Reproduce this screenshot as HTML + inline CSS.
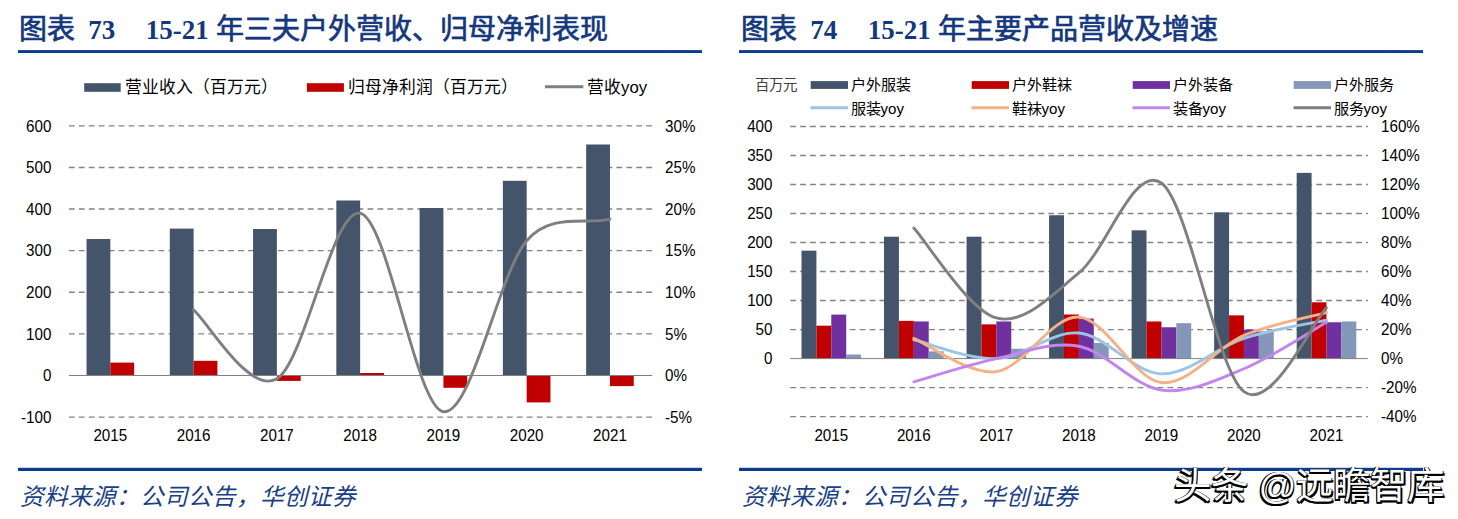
<!DOCTYPE html>
<html lang="zh-CN"><head><meta charset="utf-8"><title>chart</title>
<style>
html,body{margin:0;padding:0;background:#fff;}
body{width:1458px;height:519px;position:relative;overflow:hidden;font-family:"Liberation Sans",sans-serif;}
svg{position:absolute;left:0;top:0;}
.t{position:absolute;white-space:nowrap;line-height:1;transform:translateY(-50%);color:#000;}
.ax{transform:translateY(-50%) scaleY(1.085);}
.ax{font-size:15.2px;}
.lg{font-size:16.8px;}
.lg2{font-size:15.1px;}
.unit{font-family:"Liberation Serif",serif;font-size:14.5px;color:#404040;}
.title{font-family:"Liberation Serif",serif;font-weight:500;font-size:28px;color:#14377d;-webkit-text-stroke:0.7px #14377d;}
.title b{font-weight:bold;font-size:27px;-webkit-text-stroke:0;}
.src{font-family:"Liberation Serif",serif;font-style:italic;font-size:23.6px;color:#1a3f85;}
.wm{font-size:37.4px;color:#fff;text-shadow:-1.6px 1.6px 0 #000,-0.8px 0.8px 0 #000,0 2px 0 #000,1.2px 1.6px 0 #000,-1.5px 0 0 #000,0.8px 0 0 #333;}
</style></head><body>
<svg width="1458" height="519" viewBox="0 0 1458 519">
<line x1="68.90" y1="125.84" x2="652.30" y2="125.84" stroke="#838383" stroke-width="1.4" stroke-dasharray="5.77 4.185"/>
<line x1="68.90" y1="167.45" x2="652.30" y2="167.45" stroke="#838383" stroke-width="1.4" stroke-dasharray="5.77 4.185"/>
<line x1="68.90" y1="209.06" x2="652.30" y2="209.06" stroke="#838383" stroke-width="1.4" stroke-dasharray="5.77 4.185"/>
<line x1="68.90" y1="250.67" x2="652.30" y2="250.67" stroke="#838383" stroke-width="1.4" stroke-dasharray="5.77 4.185"/>
<line x1="68.90" y1="292.28" x2="652.30" y2="292.28" stroke="#838383" stroke-width="1.4" stroke-dasharray="5.77 4.185"/>
<line x1="68.90" y1="333.89" x2="652.30" y2="333.89" stroke="#838383" stroke-width="1.4" stroke-dasharray="5.77 4.185"/>
<line x1="68.90" y1="417.11" x2="652.30" y2="417.11" stroke="#838383" stroke-width="1.4" stroke-dasharray="5.77 4.185"/>
<rect x="86.54" y="239.00" width="23.80" height="136.50" fill="#44546a"/>
<rect x="110.34" y="362.60" width="23.80" height="12.90" fill="#c00000"/>
<rect x="169.81" y="228.60" width="23.80" height="146.90" fill="#44546a"/>
<rect x="193.61" y="360.80" width="23.80" height="14.70" fill="#c00000"/>
<rect x="253.07" y="229.00" width="23.80" height="146.50" fill="#44546a"/>
<rect x="276.88" y="375.50" width="23.80" height="5.40" fill="#c00000"/>
<rect x="336.34" y="200.50" width="23.80" height="175.00" fill="#44546a"/>
<rect x="360.14" y="373.00" width="23.80" height="2.50" fill="#c00000"/>
<rect x="419.61" y="208.00" width="23.80" height="167.50" fill="#44546a"/>
<rect x="443.41" y="375.50" width="23.80" height="12.30" fill="#c00000"/>
<rect x="502.88" y="180.80" width="23.80" height="194.70" fill="#44546a"/>
<rect x="526.68" y="375.50" width="23.80" height="26.90" fill="#c00000"/>
<rect x="586.16" y="144.50" width="23.80" height="231.00" fill="#44546a"/>
<rect x="609.96" y="375.50" width="23.80" height="10.60" fill="#c00000"/>
<line x1="68.90" y1="375.50" x2="652.30" y2="375.50" stroke="#808080" stroke-width="1"/>
<path d="M193.61,309.76 C207.48,321.27 249.12,394.92 276.88,378.83 C304.63,362.74 332.39,207.74 360.14,213.22 C387.90,218.70 415.66,407.12 443.41,411.70 C471.17,416.28 498.93,272.79 526.68,240.68 C551.67,211.79 586.36,225.18 609.96,219.05" fill="none" stroke="#7f7f7f" stroke-width="2.9" stroke-linecap="round" stroke-linejoin="round"/>
<rect x="84.20" y="83.20" width="36.50" height="8.60" fill="#44546a"/>
<rect x="306.90" y="83.20" width="37.00" height="8.60" fill="#c00000"/>
<line x1="545.00" y1="86.80" x2="583.30" y2="86.80" stroke="#7f7f7f" stroke-width="2.9"/>
<line x1="790.20" y1="126.44" x2="1367.80" y2="126.44" stroke="#838383" stroke-width="1.4" stroke-dasharray="5.76 4.167"/>
<line x1="790.20" y1="155.46" x2="1367.80" y2="155.46" stroke="#838383" stroke-width="1.4" stroke-dasharray="5.76 4.167"/>
<line x1="790.20" y1="184.48" x2="1367.80" y2="184.48" stroke="#838383" stroke-width="1.4" stroke-dasharray="5.76 4.167"/>
<line x1="790.20" y1="213.50" x2="1367.80" y2="213.50" stroke="#838383" stroke-width="1.4" stroke-dasharray="5.76 4.167"/>
<line x1="790.20" y1="242.52" x2="1367.80" y2="242.52" stroke="#838383" stroke-width="1.4" stroke-dasharray="5.76 4.167"/>
<line x1="790.20" y1="271.54" x2="1367.80" y2="271.54" stroke="#838383" stroke-width="1.4" stroke-dasharray="5.76 4.167"/>
<line x1="790.20" y1="300.56" x2="1367.80" y2="300.56" stroke="#838383" stroke-width="1.4" stroke-dasharray="5.76 4.167"/>
<line x1="790.20" y1="329.58" x2="1367.80" y2="329.58" stroke="#838383" stroke-width="1.4" stroke-dasharray="5.76 4.167"/>
<line x1="790.20" y1="387.62" x2="1367.80" y2="387.62" stroke="#838383" stroke-width="1.4" stroke-dasharray="5.76 4.167"/>
<line x1="790.20" y1="416.64" x2="1367.80" y2="416.64" stroke="#838383" stroke-width="1.4" stroke-dasharray="5.76 4.167"/>
<rect x="801.50" y="250.65" width="14.90" height="107.95" fill="#44546a"/>
<rect x="816.39" y="325.69" width="14.90" height="32.91" fill="#c00000"/>
<rect x="831.29" y="314.61" width="14.90" height="43.99" fill="#7030a0"/>
<rect x="846.20" y="354.54" width="14.90" height="4.06" fill="#8497b9"/>
<rect x="884.02" y="236.72" width="14.90" height="121.88" fill="#44546a"/>
<rect x="898.92" y="320.87" width="14.90" height="37.73" fill="#c00000"/>
<rect x="913.82" y="321.45" width="14.90" height="37.15" fill="#7030a0"/>
<rect x="928.73" y="351.35" width="14.90" height="7.25" fill="#8497b9"/>
<rect x="966.56" y="236.72" width="14.90" height="121.88" fill="#44546a"/>
<rect x="981.46" y="324.36" width="14.90" height="34.24" fill="#c00000"/>
<rect x="996.36" y="321.45" width="14.90" height="37.15" fill="#7030a0"/>
<rect x="1011.26" y="348.73" width="14.90" height="9.87" fill="#8497b9"/>
<rect x="1049.09" y="215.24" width="14.90" height="143.36" fill="#44546a"/>
<rect x="1063.99" y="314.49" width="14.90" height="44.11" fill="#c00000"/>
<rect x="1078.88" y="318.55" width="14.90" height="40.05" fill="#7030a0"/>
<rect x="1093.79" y="342.93" width="14.90" height="15.67" fill="#8497b9"/>
<rect x="1131.62" y="230.33" width="14.90" height="128.27" fill="#44546a"/>
<rect x="1146.52" y="321.45" width="14.90" height="37.15" fill="#c00000"/>
<rect x="1161.41" y="327.26" width="14.90" height="31.34" fill="#7030a0"/>
<rect x="1176.32" y="323.20" width="14.90" height="35.40" fill="#8497b9"/>
<rect x="1214.14" y="212.34" width="14.90" height="146.26" fill="#44546a"/>
<rect x="1229.05" y="315.36" width="14.90" height="43.24" fill="#c00000"/>
<rect x="1243.94" y="329.58" width="14.90" height="29.02" fill="#7030a0"/>
<rect x="1258.85" y="331.32" width="14.90" height="27.28" fill="#8497b9"/>
<rect x="1296.67" y="172.87" width="14.90" height="185.73" fill="#44546a"/>
<rect x="1311.58" y="302.30" width="14.90" height="56.30" fill="#c00000"/>
<rect x="1326.47" y="322.27" width="14.90" height="36.33" fill="#7030a0"/>
<rect x="1341.38" y="321.45" width="14.90" height="37.15" fill="#8497b9"/>
<line x1="790.20" y1="358.60" x2="1367.80" y2="358.60" stroke="#808080" stroke-width="1"/>
<path d="M913.82,339.74 C927.58,342.88 968.85,359.71 996.36,358.60 C1023.87,357.49 1051.38,330.52 1078.88,333.06 C1106.39,335.60 1133.90,372.96 1161.41,373.84 C1188.92,374.71 1216.43,347.23 1243.94,338.29 C1271.45,329.34 1312.72,323.17 1326.47,320.15" fill="none" stroke="#9dc3e6" stroke-width="2.9" stroke-linecap="round" stroke-linejoin="round"/>
<path d="M913.82,338.29 C927.58,343.85 968.85,375.19 996.36,371.66 C1023.87,368.13 1051.38,315.29 1078.88,317.10 C1106.39,318.92 1133.90,379.49 1161.41,382.54 C1188.92,385.59 1216.43,347.04 1243.94,335.38 C1271.45,323.73 1312.72,316.40 1326.47,312.60" fill="none" stroke="#f4b183" stroke-width="2.9" stroke-linecap="round" stroke-linejoin="round"/>
<path d="M913.82,381.82 C927.58,377.95 968.85,364.52 996.36,358.60 C1023.87,352.68 1051.38,341.02 1078.88,346.27 C1106.39,351.51 1133.90,386.34 1161.41,390.09 C1188.92,393.84 1216.43,380.05 1243.94,368.76 C1271.45,357.46 1312.72,330.06 1326.47,322.33" fill="none" stroke="#c285ee" stroke-width="2.9" stroke-linecap="round" stroke-linejoin="round"/>
<path d="M913.82,228.01 C927.58,243.00 968.85,310.48 996.36,317.97 C1023.87,325.47 1051.38,295.48 1078.88,272.99 C1106.39,250.50 1133.90,163.25 1161.41,183.03 C1188.92,202.81 1216.43,370.89 1243.94,391.68 C1271.45,412.48 1312.72,321.79 1326.47,307.82" fill="none" stroke="#7f7f7f" stroke-width="2.9" stroke-linecap="round" stroke-linejoin="round"/>
<rect x="810.70" y="81.10" width="37.30" height="7.80" fill="#44546a"/>
<line x1="810.50" y1="107.80" x2="848.00" y2="107.80" stroke="#9dc3e6" stroke-width="2.9"/>
<rect x="971.70" y="81.10" width="37.30" height="7.80" fill="#c00000"/>
<line x1="971.50" y1="107.80" x2="1009.00" y2="107.80" stroke="#f4b183" stroke-width="2.9"/>
<rect x="1132.70" y="81.10" width="37.30" height="7.80" fill="#7030a0"/>
<line x1="1132.50" y1="107.80" x2="1170.00" y2="107.80" stroke="#c285ee" stroke-width="2.9"/>
<rect x="1293.70" y="81.10" width="37.30" height="7.80" fill="#8497b9"/>
<line x1="1293.50" y1="107.80" x2="1331.00" y2="107.80" stroke="#7f7f7f" stroke-width="2.9"/>
<rect x="18.00" y="50.10" width="684.00" height="2.90" fill="#0c3c8c"/>
<rect x="739.00" y="50.10" width="684.00" height="2.90" fill="#0c3c8c"/>
<rect x="18.00" y="467.80" width="684.00" height="3.20" fill="#0c3c8c"/>
<rect x="739.00" y="467.80" width="684.00" height="3.20" fill="#0c3c8c"/>
</svg>
<div class="t title" style="left:19.3px;top:29.8px">图表<b style="margin-left:13px">73</b><b style="margin-left:30.5px">15-21</b><span style="margin-left:7px">年三夫户外营收、归母净利表现</span></div>
<div class="t title" style="left:741.3px;top:29.8px">图表<b style="margin-left:13px">74</b><b style="margin-left:30.5px">15-21</b><span style="margin-left:7px">年主要产品营收及增速</span></div>
<div class="t src" style="left:20px;top:498.3px">资料来源：公司公告，华创证券</div>
<div class="t src" style="left:742px;top:498.3px">资料来源：公司公告，华创证券</div>
<div class="t wm" style="left:1174px;top:486.5px">头条 @远瞻智库</div>
<div class="t ax" style="left:-148.6px;width:200.0px;text-align:right;top:125.5px">600</div>
<div class="t ax" style="left:-148.6px;width:200.0px;text-align:right;top:167.1px">500</div>
<div class="t ax" style="left:-148.6px;width:200.0px;text-align:right;top:208.8px">400</div>
<div class="t ax" style="left:-148.6px;width:200.0px;text-align:right;top:250.4px">300</div>
<div class="t ax" style="left:-148.6px;width:200.0px;text-align:right;top:292.0px">200</div>
<div class="t ax" style="left:-148.6px;width:200.0px;text-align:right;top:333.6px">100</div>
<div class="t ax" style="left:-148.6px;width:200.0px;text-align:right;top:375.2px">0</div>
<div class="t ax" style="left:-148.6px;width:200.0px;text-align:right;top:416.8px">-100</div>
<div class="t ax" style="left:665.0px;top:125.5px">30%</div>
<div class="t ax" style="left:665.0px;top:167.1px">25%</div>
<div class="t ax" style="left:665.0px;top:208.8px">20%</div>
<div class="t ax" style="left:665.0px;top:250.4px">15%</div>
<div class="t ax" style="left:665.0px;top:292.0px">10%</div>
<div class="t ax" style="left:665.0px;top:333.6px">5%</div>
<div class="t ax" style="left:665.0px;top:375.2px">0%</div>
<div class="t ax" style="left:665.0px;top:416.8px">-5%</div>
<div class="t ax" style="left:10.3px;width:200.0px;text-align:center;top:435.1px">2015</div>
<div class="t ax" style="left:93.6px;width:200.0px;text-align:center;top:435.1px">2016</div>
<div class="t ax" style="left:176.9px;width:200.0px;text-align:center;top:435.1px">2017</div>
<div class="t ax" style="left:260.1px;width:200.0px;text-align:center;top:435.1px">2018</div>
<div class="t ax" style="left:343.4px;width:200.0px;text-align:center;top:435.1px">2019</div>
<div class="t ax" style="left:426.7px;width:200.0px;text-align:center;top:435.1px">2020</div>
<div class="t ax" style="left:510.0px;width:200.0px;text-align:center;top:435.1px">2021</div>
<div class="t lg" style="left:124.6px;top:88.3px">营业收入（百万元）</div>
<div class="t lg" style="left:347.8px;top:88.3px">归母净利润（百万元）</div>
<div class="t lg" style="left:587.0px;top:88.3px">营收yoy</div>
<div class="t ax" style="left:572.5px;width:200.0px;text-align:right;top:126.1px">400</div>
<div class="t ax" style="left:572.5px;width:200.0px;text-align:right;top:155.2px">350</div>
<div class="t ax" style="left:572.5px;width:200.0px;text-align:right;top:184.2px">300</div>
<div class="t ax" style="left:572.5px;width:200.0px;text-align:right;top:213.2px">250</div>
<div class="t ax" style="left:572.5px;width:200.0px;text-align:right;top:242.2px">200</div>
<div class="t ax" style="left:572.5px;width:200.0px;text-align:right;top:271.2px">150</div>
<div class="t ax" style="left:572.5px;width:200.0px;text-align:right;top:300.3px">100</div>
<div class="t ax" style="left:572.5px;width:200.0px;text-align:right;top:329.3px">50</div>
<div class="t ax" style="left:572.5px;width:200.0px;text-align:right;top:358.3px">0</div>
<div class="t ax" style="left:1381.0px;top:126.1px">160%</div>
<div class="t ax" style="left:1381.0px;top:155.2px">140%</div>
<div class="t ax" style="left:1381.0px;top:184.2px">120%</div>
<div class="t ax" style="left:1381.0px;top:213.2px">100%</div>
<div class="t ax" style="left:1381.0px;top:242.2px">80%</div>
<div class="t ax" style="left:1381.0px;top:271.2px">60%</div>
<div class="t ax" style="left:1381.0px;top:300.3px">40%</div>
<div class="t ax" style="left:1381.0px;top:329.3px">20%</div>
<div class="t ax" style="left:1381.0px;top:358.3px">0%</div>
<div class="t ax" style="left:1381.0px;top:387.3px">-20%</div>
<div class="t ax" style="left:1381.0px;top:416.3px">-40%</div>
<div class="t ax" style="left:731.3px;width:200.0px;text-align:center;top:435.1px">2015</div>
<div class="t ax" style="left:813.8px;width:200.0px;text-align:center;top:435.1px">2016</div>
<div class="t ax" style="left:896.4px;width:200.0px;text-align:center;top:435.1px">2017</div>
<div class="t ax" style="left:978.9px;width:200.0px;text-align:center;top:435.1px">2018</div>
<div class="t ax" style="left:1061.4px;width:200.0px;text-align:center;top:435.1px">2019</div>
<div class="t ax" style="left:1143.9px;width:200.0px;text-align:center;top:435.1px">2020</div>
<div class="t ax" style="left:1226.5px;width:200.0px;text-align:center;top:435.1px">2021</div>
<div class="t unit" style="left:755.0px;top:85.0px">百万元</div>
<div class="t lg lg2" style="left:850.5px;top:85.3px">户外服装</div>
<div class="t lg lg2" style="left:850.5px;top:109.2px">服装yoy</div>
<div class="t lg lg2" style="left:1011.5px;top:85.3px">户外鞋袜</div>
<div class="t lg lg2" style="left:1011.5px;top:109.2px">鞋袜yoy</div>
<div class="t lg lg2" style="left:1172.5px;top:85.3px">户外装备</div>
<div class="t lg lg2" style="left:1172.5px;top:109.2px">装备yoy</div>
<div class="t lg lg2" style="left:1333.5px;top:85.3px">户外服务</div>
<div class="t lg lg2" style="left:1333.5px;top:109.2px">服务yoy</div>
</body></html>
